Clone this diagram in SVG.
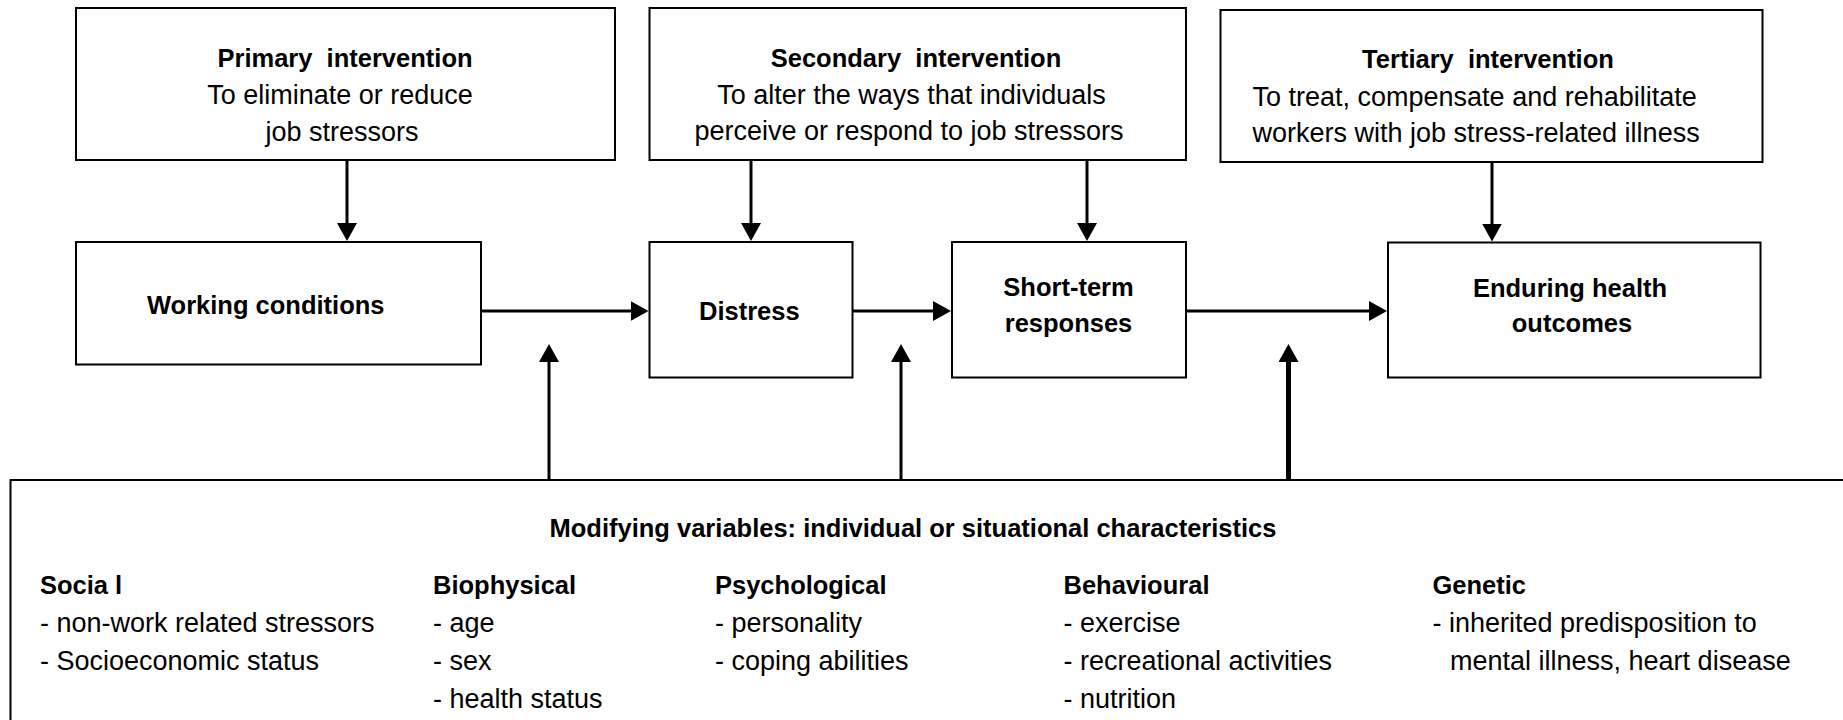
<svg xmlns="http://www.w3.org/2000/svg" width="1843" height="720" viewBox="0 0 1843 720">
<style>
.box{fill:#fff;stroke:#000;stroke-width:2}
.t{font-family:"Liberation Sans",Arial,sans-serif;font-size:27px;fill:#000}
.b{font-family:"Liberation Sans",Arial,sans-serif;font-size:25.5px;font-weight:bold;fill:#000}
.c{text-anchor:middle}
.ln{stroke:#000;stroke-width:3;fill:none;marker-end:url(#ah)}
.lnk{stroke:#000;stroke-width:5;fill:none;marker-end:url(#ah)}
</style>
<defs>
<marker id="ah" viewBox="0 0 18 20" refX="8" refY="10" markerWidth="18" markerHeight="20" markerUnits="userSpaceOnUse" orient="auto">
<path d="M0,0 L18,10 L0,20 Z" fill="#000"/>
</marker>
</defs>
<rect width="1843" height="720" fill="#fff"/>

<g id="modifying">
<rect class="box" x="10.5" y="480" width="1900" height="300"/>
<text class="b c" x="913" y="537">Modifying variables: individual or situational characteristics</text>
<text class="b" x="40" y="594">Socia l</text>
<text class="t" x="40" y="632">- non-work related stressors</text>
<text class="t" x="40" y="670">- Socioeconomic status</text>
<text class="b" x="433" y="594">Biophysical</text>
<text class="t" x="433" y="632">- age</text>
<text class="t" x="433" y="670">- sex</text>
<text class="t" x="433" y="708">- health status</text>
<text class="b" x="715" y="594">Psychological</text>
<text class="t" x="715" y="632">- personality</text>
<text class="t" x="715" y="670">- coping abilities</text>
<text class="b" x="1063.5" y="594">Behavioural</text>
<text class="t" x="1063.5" y="632">- exercise</text>
<text class="t" x="1063.5" y="670">- recreational activities</text>
<text class="t" x="1063.5" y="708">- nutrition</text>
<text class="b" x="1432.5" y="594">Genetic</text>
<text class="t" x="1432.5" y="632">- inherited predisposition to</text>
<text class="t" x="1450" y="670">mental illness, heart disease</text>
</g>

<g id="primary">
<rect class="box" x="76" y="8" width="539" height="152"/>
<text class="b c" x="345" y="67">Primary&#160; intervention</text>
<text class="t c" x="340" y="104">To eliminate or reduce</text>
<text class="t c" x="342" y="141">job stressors</text>
</g>

<g id="secondary">
<rect class="box" x="649.5" y="8" width="536.5" height="152"/>
<text class="b c" x="916" y="67">Secondary&#160; intervention</text>
<text class="t c" x="911.5" y="104">To alter the ways that individuals</text>
<text class="t c" x="909" y="140">perceive or respond to job stressors</text>
</g>

<g id="tertiary">
<rect class="box" x="1220.5" y="10" width="542" height="152"/>
<text class="b c" x="1488" y="68">Tertiary&#160; intervention</text>
<text class="t" x="1252.5" y="106">To treat, compensate and rehabilitate</text>
<text class="t" x="1252.5" y="142">workers with job stress-related illness</text>
</g>

<g id="working">
<rect class="box" x="76" y="242" width="405" height="122.5"/>
<text class="b" x="147" y="314">Working conditions</text>
</g>

<g id="distress">
<rect class="box" x="649.5" y="242" width="203" height="135.5"/>
<text class="b" x="699" y="320">Distress</text>
</g>

<g id="shortterm">
<rect class="box" x="952" y="242" width="234" height="135.5"/>
<text class="b c" x="1068.5" y="296">Short-term</text>
<text class="b c" x="1068.5" y="332">responses</text>
</g>

<g id="enduring">
<rect class="box" x="1388" y="242.5" width="372.5" height="135"/>
<text class="b c" x="1570" y="297">Enduring health</text>
<text class="b c" x="1572" y="332">outcomes</text>
</g>

<g id="connectors">
<line class="ln" x1="347" y1="161" x2="347" y2="231"/>
<line class="ln" x1="751" y1="161" x2="751" y2="231"/>
<line class="ln" x1="1087" y1="161" x2="1087" y2="231"/>
<line class="ln" x1="1492" y1="163" x2="1492" y2="231.5"/>
<line class="ln" x1="482" y1="311" x2="638.5" y2="311"/>
<line class="ln" x1="853" y1="311" x2="941" y2="311"/>
<line class="ln" x1="1187" y1="311" x2="1377" y2="311"/>
<line class="ln" x1="549" y1="479" x2="549" y2="354"/>
<line class="ln" x1="901" y1="479" x2="901" y2="354"/>
<line class="lnk" x1="1288.5" y1="479" x2="1288.5" y2="354"/>
</g>
</svg>
